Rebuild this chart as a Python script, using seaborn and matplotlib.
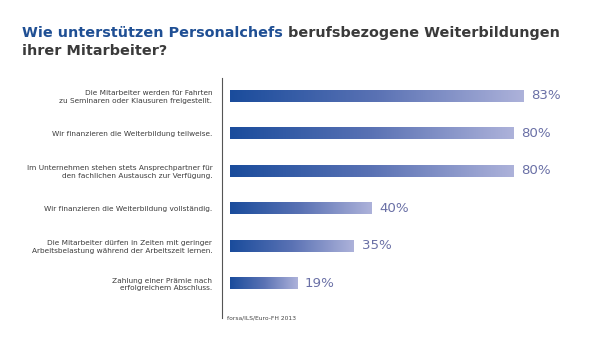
import numpy as np
import matplotlib
matplotlib.use("Agg")
import matplotlib.pyplot as plt
import pandas as pd
import seaborn as sns
from matplotlib.colors import LinearSegmentedColormap

# Data
labels = [
    "Die Mitarbeiter werden für Fahrten\nzu Seminaren oder Klausuren freigestellt.",
    "Wir finanzieren die Weiterbildung teilweise.",
    "Im Unternehmen stehen stets Ansprechpartner für\nden fachlichen Austausch zur Verfügung.",
    "Wir finanzieren die Weiterbildung vollständig.",
    "Die Mitarbeiter dürfen in Zeiten mit geringer\nArbeitsbelastung während der Arbeitszeit lernen.",
    "Zahlung einer Prämie nach\nerfolgreichem Abschluss.",
]
values = [83, 80, 80, 40, 35, 19]
df = pd.DataFrame({"label": labels, "pct": values})

sns.set_theme(style="white")
plt.rcParams["font.family"] = ["DejaVu Sans"]

fig = plt.figure(figsize=(6, 3.41), dpi=100)
ax = fig.add_axes([222 / 600, 1 - 318 / 341, 378 / 600, 240 / 341])

sns.barplot(data=df, x="pct", y="label", orient="h", width=0.32,
            color="#1d4f9f", ax=ax)

# gradient fill on each bar
cmap = LinearSegmentedColormap.from_list("g", ["#1a4c9c", "#5a72b4", "#adb2da"])
grad = np.linspace(0, 1, 256).reshape(1, -1)
for p in ax.patches:
    x0, y0 = p.get_x(), p.get_y()
    w, h = p.get_width(), p.get_height()
    im = ax.imshow(grad, extent=[x0, x0 + w, y0 + h, y0], aspect="auto",
                   cmap=cmap, zorder=p.get_zorder() + 0.1)
    im.set_clip_path(p)
    p.set_edgecolor("none")

ax.set_xlim(-2.26, (600 - 230) / 3.54)
ax.set_ylim(5.933, -0.467)

for i, v in enumerate(values):
    ax.text(v + 2.2, i, f"{v}%", va="center", ha="left", fontsize=9.6,
            color="#6a70a6", fontweight="medium")

ax.set_xlabel("")
ax.set_ylabel("")
ax.set_xticks([])
ax.set_yticks(range(len(labels)))
ax.set_yticklabels(labels, fontsize=5.3, color="#3c3c3c", linespacing=1.3)
ax.tick_params(axis="y", length=0, pad=7)
for s in ["top", "right", "bottom"]:
    ax.spines[s].set_visible(False)
ax.spines["left"].set_color("#555555")
ax.spines["left"].set_linewidth(0.8)

# title with two colours
fs = 10.4
t1 = fig.text(22 / 600, 1 - 37 / 341, "Wie unterstützen Personalchefs",
              fontsize=fs, fontweight="bold", color="#1f4f94")
fig.canvas.draw()
bb = t1.get_window_extent()
fig.text(bb.x1 / fig.bbox.width + 0.008, 1 - 37 / 341,
         "berufsbezogene Weiterbildungen", fontsize=fs,
         fontweight="bold", color="#3a3a3a")
fig.text(22 / 600, 1 - 55 / 341, "ihrer Mitarbeiter?", fontsize=fs,
         fontweight="bold", color="#3a3a3a")

fig.text(227 / 600, 1 - 319 / 341, "forsa/ILS/Euro-FH 2013", fontsize=4.3,
         color="#444444")

fig.savefig("out.png", dpi=100)
